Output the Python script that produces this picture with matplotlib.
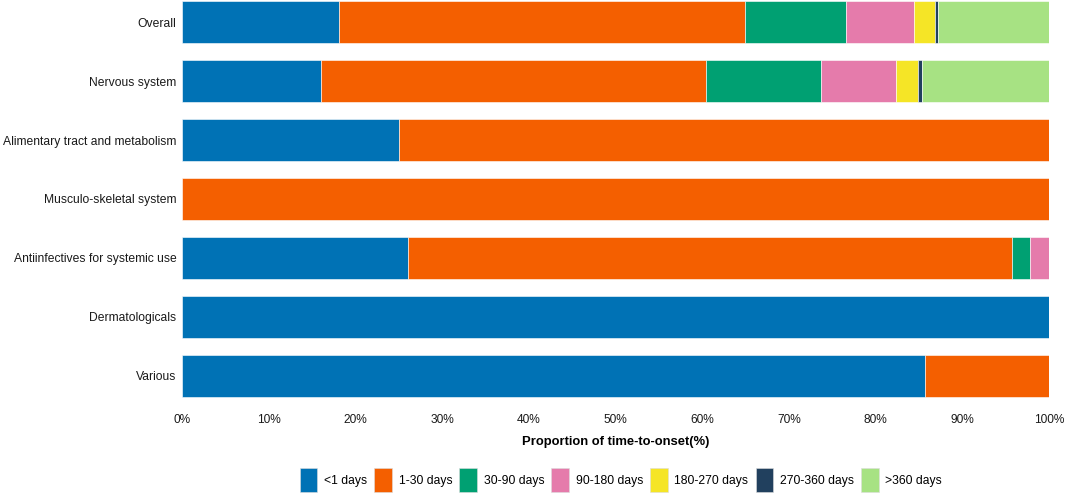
import matplotlib
matplotlib.use("Agg")
import matplotlib.pyplot as plt
from matplotlib.patches import Patch
import numpy as np

plt.rcParams['font.family'] = ['Liberation Sans', 'DejaVu Sans']

categories = ["Overall", "Nervous system", "Alimentary tract and metabolism",
              "Musculo-skeletal system", "Antiinfectives for systemic use",
              "Dermatologicals", "Various"]
series_names = ["<1 days", "1-30 days", "30-90 days", "90-180 days",
                "180-270 days", "270-360 days", ">360 days"]
# proportions (%) per category, one list per series
lt1 = [18.1, 16.0, 25.0, 0.0, 26.1, 100.0, 85.7]
d1_30 = [46.8, 44.4, 75.0, 100.0, 69.6, 0.0, 14.3]
d30_90 = [11.7, 13.3, 0.0, 0.0, 2.15, 0.0, 0.0]
d90_180 = [7.8, 8.6, 0.0, 0.0, 2.15, 0.0, 0.0]
d180_270 = [2.5, 2.6, 0.0, 0.0, 0.0, 0.0, 0.0]
d270_360 = [0.3, 0.5, 0.0, 0.0, 0.0, 0.0, 0.0]
gt360 = [12.8, 14.6, 0.0, 0.0, 0.0, 0.0, 0.0]
xticks = [0, 10, 20, 30, 40, 50, 60, 70, 80, 90, 100]

series = [lt1, d1_30, d30_90, d90_180, d180_270, d270_360, gt360]
colors = ['#0072B5', '#F45F00', '#00A072', '#E57BAB', '#F5E526', '#21405E', '#A7E283']

fig = plt.figure(figsize=(10.65, 4.93), dpi=100)
ax = fig.add_axes([182/1065, (493-397.8)/493, (1049-182)/1065, 397.6/493])

y = np.arange(len(categories))
left = np.zeros(len(categories))
for name, vals, c in zip(series_names, series, colors):
    vals = np.array(vals, dtype=float)
    ax.barh(y, vals, left=left, height=0.7, color=c, edgecolor='white',
            linewidth=0.4, label=name)
    left += vals

ax.set_ylim(6.37, -0.37)
ax.set_xlim(0, 100)
ax.set_yticks(y)
ax.set_yticklabels(categories, fontsize=8.7, color='#1a1a1a')
ax.set_xticks(xticks)
ax.set_xticklabels([f"{t}%" for t in xticks], fontsize=8.6, color='#1a1a1a')
ax.tick_params(axis='y', length=0, pad=4)
ax.tick_params(axis='x', length=0, pad=12)
for s in ax.spines.values():
    s.set_visible(False)
ax.set_xlabel("Proportion of time-to-onset(%)", fontsize=9.4, fontweight='bold',
              labelpad=7)

handles = [Patch(facecolor=c, edgecolor='#dddddd', linewidth=0.4) for c in colors]
fig.legend(handles, series_names, loc='center', bbox_to_anchor=(0.583, 0.026),
           ncol=7, frameon=False, fontsize=8.7, handlelength=1.45, handleheight=2.7,
           handletextpad=0.55, columnspacing=0.6)

fig.savefig("out.png", dpi=100)
